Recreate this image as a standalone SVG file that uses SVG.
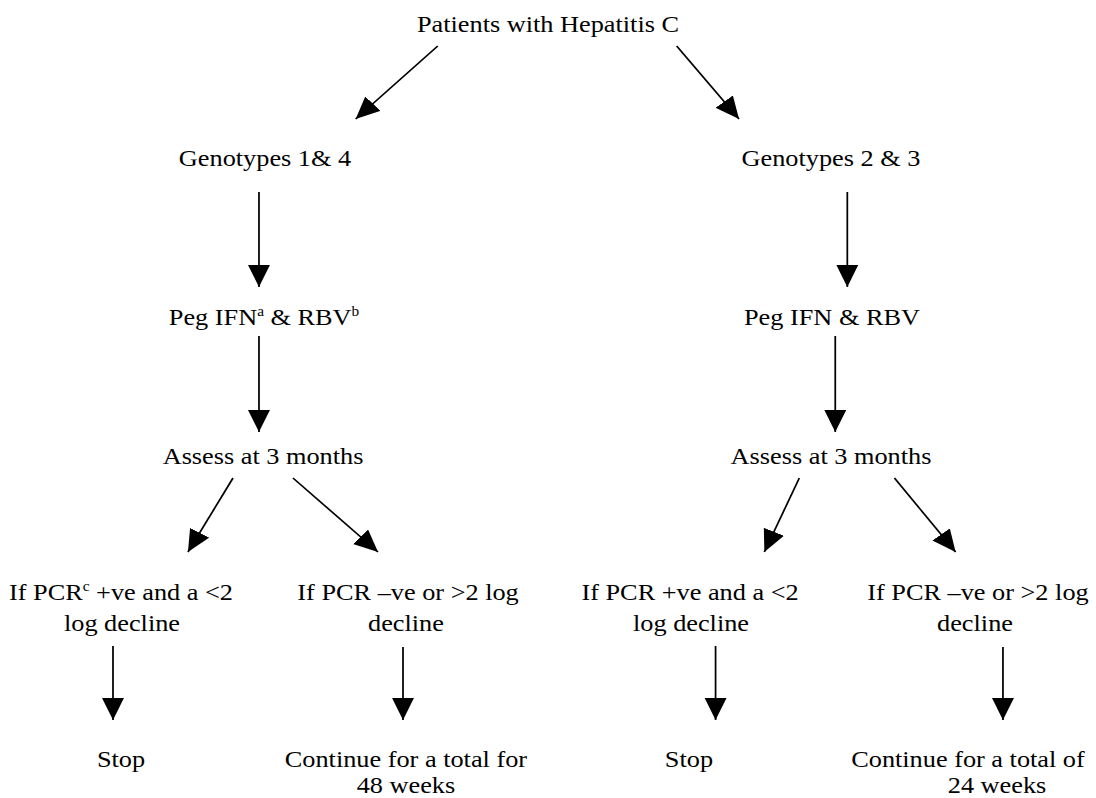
<svg xmlns="http://www.w3.org/2000/svg" width="1096" height="798" viewBox="0 0 1096 798">
<style>
text{font-family:"Liberation Serif","Times New Roman",serif;font-size:24px;fill:#000;text-anchor:middle}
.sup{font-size:14px}
.c line{stroke:#000;stroke-width:1.6;marker-end:url(#ah)}
</style>
<defs>
<marker id="ah" markerUnits="userSpaceOnUse" markerWidth="23" markerHeight="21" refX="22" refY="10" orient="auto" viewBox="0 0 23 21">
<path d="M0,0 L22,10 L0,20 z" fill="#000"/>
</marker>
</defs>
<rect width="1096" height="798" fill="#fff"/>
<g transform="scale(1.096,1)">
<g id="n_patients"><text x="500" y="32">Patients with Hepatitis C</text></g>
<g id="n_geno14"><text x="241.8" y="166">Genotypes 1&amp; 4</text></g>
<g id="n_geno23"><text x="758.2" y="166">Genotypes 2 &amp; 3</text></g>
<g id="n_peg_l"><text x="240.9" y="325">Peg IFN<tspan class="sup" dy="-9">a</tspan><tspan dy="9"> &amp; RBV</tspan><tspan class="sup" dy="-9">b</tspan></text></g>
<g id="n_peg_r"><text x="759.1" y="325">Peg IFN &amp; RBV</text></g>
<g id="n_assess_l"><text x="240" y="464">Assess at 3 months</text></g>
<g id="n_assess_r"><text x="758.2" y="464">Assess at 3 months</text></g>
<g id="n_pos_l"><text x="110.4" y="600">If PCR<tspan class="sup" dy="-9">c</tspan><tspan dy="9"> +ve and a &lt;2</tspan></text><text x="111.3" y="631">log decline</text></g>
<g id="n_neg_l"><text x="372.3" y="600">If PCR –ve or &gt;2 log</text><text x="370.4" y="631">decline</text></g>
<g id="n_pos_r"><text x="629.6" y="600">If PCR +ve and a &lt;2</text><text x="630.5" y="631">log decline</text></g>
<g id="n_neg_r"><text x="892.3" y="600">If PCR –ve or &gt;2 log</text><text x="889.6" y="631">decline</text></g>
<g id="n_stop_l"><text x="110.4" y="767">Stop</text></g>
<g id="n_cont_l"><text x="370.4" y="767">Continue for a total for</text><text x="370.4" y="793">48 weeks</text></g>
<g id="n_stop_r"><text x="628.6" y="767">Stop</text></g>
<g id="n_cont_r"><text x="883.2" y="767">Continue for a total of</text><text x="909.7" y="793">24 weeks</text></g>
<g id="connectors" class="c">
<line x1="399.4" y1="46" x2="324.5" y2="119"/>
<line x1="617.4" y1="46" x2="674.3" y2="119"/>
<line x1="236.3" y1="192" x2="236.3" y2="287"/>
<line x1="236.3" y1="336" x2="236.3" y2="432"/>
<line x1="773.1" y1="192" x2="773.1" y2="287"/>
<line x1="762.1" y1="336" x2="762.1" y2="432"/>
<line x1="212.6" y1="478" x2="171.5" y2="552"/>
<line x1="267.3" y1="478" x2="344.9" y2="552"/>
<line x1="729.3" y1="478" x2="697.4" y2="552"/>
<line x1="816.1" y1="478" x2="871.9" y2="552"/>
<line x1="103.1" y1="646" x2="103.1" y2="720"/>
<line x1="367.7" y1="647" x2="367.7" y2="720"/>
<line x1="652.9" y1="646" x2="652.9" y2="720"/>
<line x1="915.1" y1="647" x2="915.1" y2="720"/>
</g>
</g>
</svg>
